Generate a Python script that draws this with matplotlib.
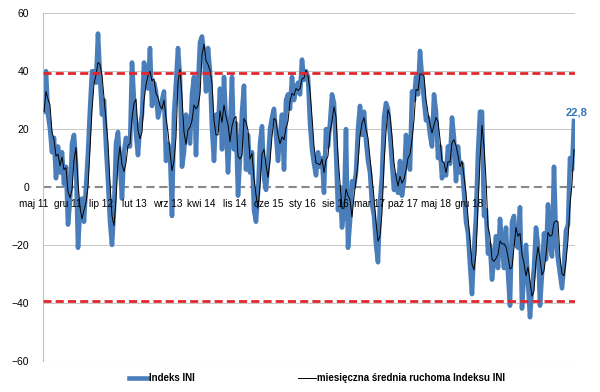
import matplotlib
matplotlib.use('Agg')
import matplotlib.pyplot as plt
import numpy as np
import pandas as pd
from matplotlib.lines import Line2D

plt.rcParams['font.family'] = ['Liberation Sans', 'DejaVu Sans']

# ---- data ----
ini_part1 = [26, 40, 25, 20, 12, 17, 3, 14, 5, 12, 1, 7, -13, -5, 15, 18, 8, -21, -8, -4,
             -12, 0, 12, 27, 40, 40, 36, 53, 38, 25, 30, 14, 2, -12, -20, -8, 15, 19, 8, -4,
             12, 17, 14]
ini_part2 = [14, 43, 30, 18, 11, 21, 25, 43, 38, 34, 48, 28, 36, 33, 24, 27, 30, 33, 9, 15,
             12, -10, 25, 36, 48, 38, 7, 12, 25, 22, 15, 32, 38, 11, 35, 50, 52, 46, 33, 48,
             40, 20, 9, 25]
ini_part3 = [20, 34, 13, 38, 22, 5, 20, 38, 13, 22, -3, 10, 26, 35, 6, 18, 5, 12, -8, -12,
             -2, 15, 21, 3, -1, 8, 20, 24, 27, 18, 9, 18, 25, 6, 30, 32, 27, 38, 30, 34,
             36, 32, 44, 37]
ini_part4 = [40, 38, 22, 13, 8, 4, 12, 7, 10, -2, 20, 14, 22, 32, 29, 12, -8, 0, -14, -8,
             20, -21, -12, 2, 0, 5, 20, 28, 18, 26, 16, 9, 5, -6, -10, -20, -26, -5, 4, 24,
             29, 27, 18, 8]
ini_part5 = [-1, 4, -2, 9, -3, 2, 18, 10, 6, 33, 30, 38, 32, 47, 38, 30, 23, 24, 18, 14,
             32, 26, 10, 14, 3, 8, 4, 14, 8, 24, 17, 2, 14, 5, 8, -2, -12, -16, -27, -37,
             -22, -10, 12, 26]
ini_part6 = [26, -10, -8, -23, -20, -32, -25, -17, -28, -11, -20, -28, -14, -30, -41, -12, -10, -20, -21, -7,
             -42, -30, -20, -33, -45, -35, -28, -14, -20, -41, -30, -16, -25, -6, -20, -24, 7, -18, -25, -30,
             -35, -27, -15, -13, 10, 6, 22.8]
ini_values = ini_part1 + ini_part2 + ini_part3 + ini_part4 + ini_part5 + ini_part6

month_labels = ['maj 11', 'gru 11', 'lip 12', 'lut 13', 'wrz 13', 'kwi 14', 'lis 14',
                'cze 15', 'sty 16', 'sie 16', 'mar 17', 'paź 17', 'maj 18', 'gru 18']
y_ticks = [-60, -40, -20, 0, 20, 40, 60]
upper_band = 39.5
lower_band = -39.5
last_label = '22,8'
ma_window = 3
series_names = ['Indeks INI', 'miesięczna średnia ruchoma Indeksu INI']

# ---- layout ----
W, H = 600, 392
fig = plt.figure(figsize=(W / 100, H / 100), dpi=100)
ax_left, ax_right, ax_top, ax_bottom = 43, 575, 13.3, 360.7
ax = fig.add_axes([ax_left / W, 1 - ax_bottom / H, (ax_right - ax_left) / W, (ax_bottom - ax_top) / H])

n = len(ini_values)
x = np.arange(n)
px0, px1 = 44, 574
step = (px1 - px0) / (n - 1)
ax.set_xlim(-(px0 - ax_left) / step, (n - 1) + (ax_right - px1) / step)
ax.set_ylim(-60, 60)

blue = '#4a7ebb'
for v in y_ticks:
    if v != 0:
        ax.axhline(v, color='#c9c9c9', lw=0.75, zorder=0)
ax.axhline(0, color='#8a8a8a', lw=1.5, dashes=(4.0, 2.2), zorder=1)

ma = pd.Series(ini_values).rolling(ma_window, min_periods=1).mean()
ax.plot(x, ini_values, color=blue, lw=3.3, zorder=2, solid_joinstyle='round')
ax.plot(x, ma, color='black', lw=0.7, zorder=3)

ax.axhline(upper_band, color='#e3262b', lw=2.0, dashes=(2.9, 1.5), zorder=4)
ax.axhline(lower_band, color='#e3262b', lw=2.0, dashes=(2.9, 1.5), zorder=4)

for s in ['top', 'right', 'bottom']:
    ax.spines[s].set_visible(False)
ax.spines['left'].set_color('#bfbfbf')
ax.spines['left'].set_linewidth(0.75)
ax.set_yticks(y_ticks)
ax.set_xticks([])
ax.tick_params(axis='y', length=0, pad=10, labelsize=7.5)

for k, lab in enumerate(month_labels):
    cx = 34 + 33.5 * k
    ax.text((cx - px0) / step, -6, lab, ha='center', va='center', fontsize=7.2, clip_on=False)

ax.text(n - 1 + 2.5 / step, 25.6, last_label, color='#2e75b6', fontweight='bold',
        fontsize=8, ha='center', va='center', clip_on=False)

# legend
ly = 1 - 378 / H
fig.add_artist(Line2D([129 / W, 148 / W], [ly, ly], color=blue, lw=3.3))
fig.text(149 / W, ly, series_names[0], va='center', fontsize=7, fontweight='bold')
fig.add_artist(Line2D([298 / W, 316 / W], [ly, ly], color='black', lw=0.7))
fig.text(317 / W, ly, series_names[1], va='center', fontsize=7, fontweight='bold')

fig.savefig('out.png', dpi=100)
